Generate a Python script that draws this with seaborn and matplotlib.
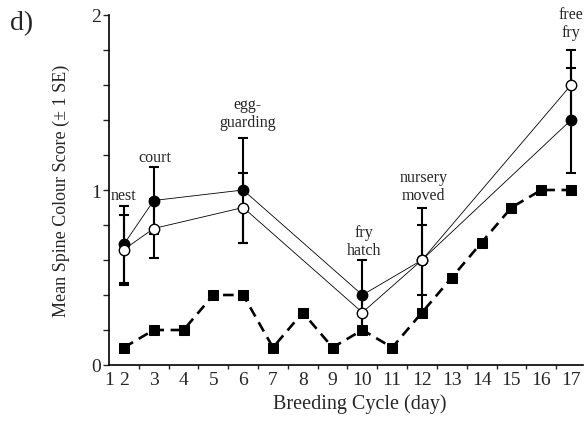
import matplotlib
matplotlib.use("Agg")
import matplotlib.pyplot as plt
import seaborn as sns
import pandas as pd
import numpy as np

# ---- data ----
circle_days = [2, 3, 6, 10, 12, 17]
filled_mean = [0.69, 0.94, 1.00, 0.40, 0.60, 1.40]
filled_se = [0.22, 0.19, 0.30, 0.20, 0.30, 0.30]
open_mean = [0.66, 0.78, 0.90, 0.30, 0.60, 1.60]
open_se = [0.20, 0.17, 0.20, 0.10, 0.20, 0.20]

square_days = [2, 3, 4, 5, 6, 7, 8, 9, 10, 11, 12, 13, 14, 15, 16, 17]
square_vals = [0.1, 0.2, 0.2, 0.4, 0.4, 0.1, 0.3, 0.1, 0.2, 0.1, 0.3, 0.5, 0.7, 0.9, 1.0, 1.0]

x_labels = [str(i) for i in range(1, 18)]
y_labels = ["0", "1", "2"]

events = ["nest", "court", "egg-\nguarding", "fry\nhatch", "nursery\nmoved", "free\nfry"]
event_x = [2.0, 3.05, 6.15, 10.05, 12.05, 17.0]
# baseline of the last line of each label
event_y = [0.95, 1.167, 1.367, 0.634, 0.949, 1.88]

sns.set_style("ticks")
plt.rcParams['font.family'] = ['Liberation Serif', 'DejaVu Serif']

fig = plt.figure(figsize=(5.84, 4.27), dpi=100)
ax = fig.add_axes([109 / 584, 61 / 427, 474 / 584, 350 / 427])

filled_df = pd.DataFrame({"day": circle_days, "score": filled_mean})
open_df = pd.DataFrame({"day": circle_days, "score": open_mean})
sq_df = pd.DataFrame({"day": square_days, "score": square_vals})

# error bars
ax.errorbar(circle_days, filled_mean, yerr=filled_se, fmt="none", ecolor="black",
            elinewidth=1.5, capsize=3.8, capthick=1.5, zorder=2)
ax.errorbar(circle_days, open_mean, yerr=open_se, fmt="none", ecolor="black",
            elinewidth=1.5, capsize=3.8, capthick=1.5, zorder=2)

# squares dashed
sns.lineplot(data=sq_df, x="day", y="score", ax=ax, color="black", linewidth=1.9,
             marker="s", markersize=7, markeredgecolor="black", markerfacecolor="black",
             dashes=False, zorder=3, errorbar=None)
ax.lines[-1].set_dashes([4, 2.5])

sns.lineplot(data=filled_df, x="day", y="score", ax=ax, color="black", linewidth=0.6,
             marker="o", markersize=7.5, markeredgecolor="black", markerfacecolor="black",
             markeredgewidth=1, zorder=4, errorbar=None)
sns.lineplot(data=open_df, x="day", y="score", ax=ax, color="black", linewidth=0.6,
             marker="o", markersize=7.5, markeredgecolor="black", markerfacecolor="white",
             markeredgewidth=1, zorder=5, errorbar=None)

ax.set_xlim(1.5, 17.4)
ax.set_ylim(0, 2)

# x ticks: labels at day positions, marks at half days
label_pos = [1.5] + list(range(2, 18))
ax.set_xticks(label_pos)
ax.set_xticklabels(x_labels)
ax.set_xticks(np.arange(2.5, 17.0, 1.0), minor=True)
ax.tick_params(axis="x", which="major", length=0, pad=4, labelsize=14)
ax.tick_params(axis="x", which="minor", length=3, width=1, direction="out")

ax.set_yticks([0, 1, 2])
ax.set_yticklabels(y_labels)
ax.set_yticks(np.arange(0.2, 2.0, 0.2), minor=True)
ax.tick_params(axis="y", which="major", length=4, width=1, pad=2, labelsize=14)
ax.tick_params(axis="y", which="minor", length=4, width=1)

for s in ["top", "right"]:
    ax.spines[s].set_visible(False)
for s in ["left", "bottom"]:
    ax.spines[s].set_linewidth(1.2)
    ax.spines[s].set_color("black")

ax.set_xlabel("Breeding Cycle (day)", fontsize=14.5)
ax.set_ylabel("Mean Spine Colour Score (± 1 SE)", fontsize=13)
ax.xaxis.set_label_coords((360 - 109) / 474, -0.08)
ax.yaxis.set_label_coords((70 - 109) / 474, 0.5)

for t, x, y in zip(events, event_x, event_y):
    ax.text(x, y, t, ha="center", va="baseline", fontsize=11.5, linespacing=1.15)

fig.text(10 / 584, 1 - 30 / 427, "d)", fontsize=20, va="baseline", ha="left")

fig.savefig("out.png", dpi=100)
